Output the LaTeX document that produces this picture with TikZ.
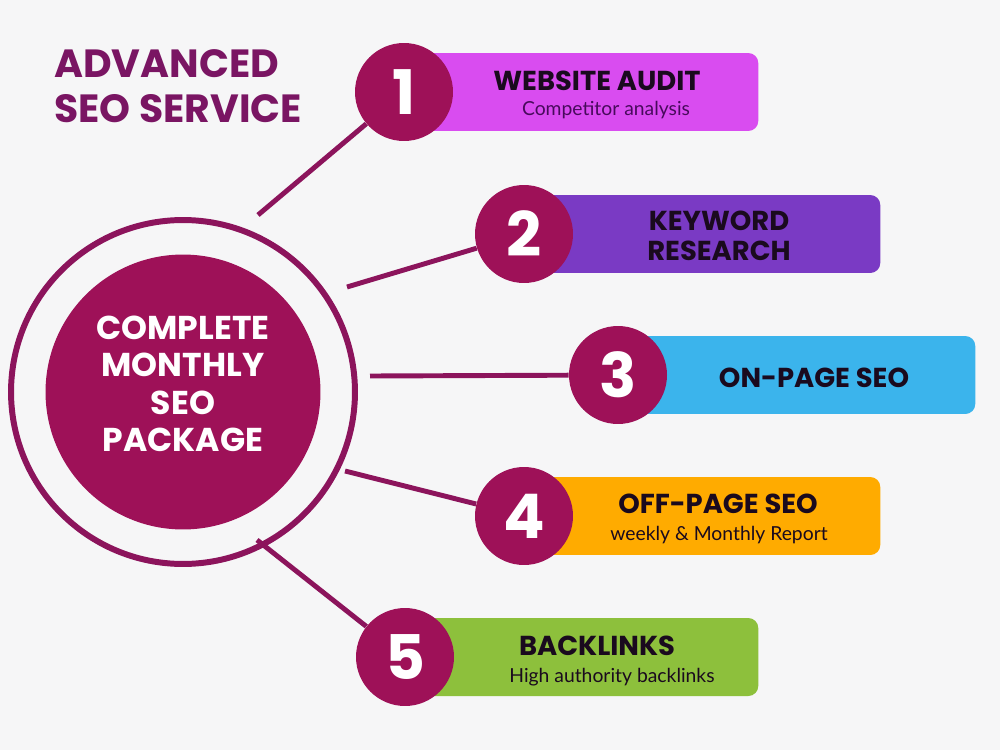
\documentclass[tikz,border=0pt]{standalone}
\usepackage{fontspec}
\setmainfont{Lato}
\newfontfamily\heavyfont{Poppins}
\usepackage{tikz}
\definecolor{bgcol}{RGB}{246,246,247}
\definecolor{hubcol}{RGB}{158,17,88}
\definecolor{ringcol}{RGB}{140,20,92}
\definecolor{titlecol}{RGB}{122,21,99}
\definecolor{darkcol}{RGB}{26,10,30}
\definecolor{subpurple}{RGB}{72,10,92}
\definecolor{auditcol}{RGB}{217,76,240}
\definecolor{keywordcol}{RGB}{122,58,196}
\definecolor{onpagecol}{RGB}{59,180,236}
\definecolor{offpagecol}{RGB}{255,171,0}
\definecolor{backlinkcol}{RGB}{141,192,60}
\tikzstyle{numcircle}=[circle,
	fill=hubcol,
	text=white,
	minimum size=1.96cm,
	inner sep=0pt,
	font=\heavyfont\fontsize{35}{35}\selectfont\bfseries]
\tikzstyle{bar}=[rectangle,
	rounded corners=0.2cm,
	anchor=west,
	minimum height=1.56cm,
	inner sep=0pt]
\tikzstyle{head}=[text=darkcol,
	align=center,
	inner sep=0pt,
	font=\heavyfont\fontsize{15.6}{16.8}\selectfont\bfseries]
\tikzstyle{sub}=[text=darkcol,
	inner sep=0pt,
	font=\fontsize{11}{12}\selectfont]
\tikzstyle{link}=[draw=ringcol,
	line width=2.8pt]

\begin{document}
\begin{tikzpicture}[x=0.02cm, y=-0.02cm]
	\fill[bgcol] (0,0) rectangle (1000,750);
	\useasboundingbox (0,0) rectangle (1000,750);

	\node (title) [anchor=west, align=left, text=titlecol, inner sep=0pt,
		font=\heavyfont\fontsize{22.4}{25.3}\selectfont\bfseries] at (54,86) {ADVANCED\\SEO SERVICE};

	% centre circle
	\node (ring) [circle, draw=ringcol, line width=3.4pt, minimum size=6.88cm, inner sep=0pt] at (183,392) {};
	\node (hub) [circle, fill=hubcol, minimum size=5.5cm, inner sep=0pt] at (183,392) {};
	\node (hubtext) [align=center, text=white, inner sep=0pt,
		font=\heavyfont\fontsize{18.8}{21.3}\selectfont\bfseries] at (183,384) {COMPLETE\\MONTHLY\\SEO\\PACKAGE};

	% steps
	\node (bar1) [bar, fill=auditcol, minimum width=7.08cm] at (404,92) {};
	\node (bar2) [bar, fill=keywordcol, minimum width=7.12cm] at (524,234) {};
	\node (bar3) [bar, fill=onpagecol, minimum width=7.14cm] at (618,375) {};
	\node (bar4) [bar, fill=offpagecol, minimum width=7.12cm] at (524,516) {};
	\node (bar5) [bar, fill=backlinkcol, minimum width=7.06cm] at (405,657) {};

	\node (n1) [numcircle] at (404,92) {1};
	\node (n2) [numcircle] at (524,234) {2};
	\node (n3) [numcircle] at (618,375) {3};
	\node (n4) [numcircle] at (524,516) {4};
	\node (n5) [numcircle] at (405,657) {5};

	\node (head1) [head] at (597,81) {WEBSITE AUDIT};
	\node (sub1) [sub, text=subpurple] at (606,110) {Competitor analysis};
	\node (head2) [head] at (719,236) {KEYWORD\\RESEARCH};
	\node (head3) [head] at (814,378) {ON-PAGE SEO};
	\node (head4) [head] at (718,504) {OFF-PAGE SEO};
	\node (sub4) [sub] at (719,535) {weekly \& Monthly Report};
	\node (head5) [head] at (597,646) {BACKLINKS};
	\node (sub5) [sub] at (612,677) {High authority backlinks};

	% connectors
	\coordinate (s1) at (258,215);
	\coordinate (s2) at (347,287);
	\coordinate (s3) at (370,376);
	\coordinate (s4) at (345,471);
	\coordinate (s5) at (257,540);
	\draw[link] (s1) -- (n1);
	\draw[link] (s2) -- (n2);
	\draw[link] (s3) -- (n3);
	\draw[link] (s4) -- (n4);
	\draw[link] (s5) -- (n5);
\end{tikzpicture}
\end{document}
